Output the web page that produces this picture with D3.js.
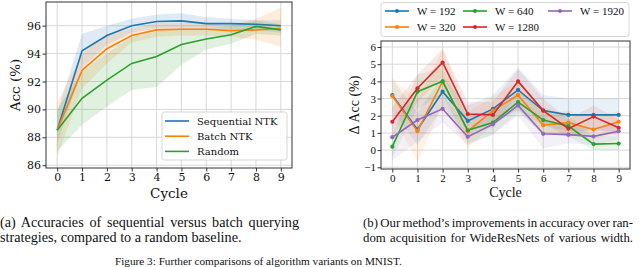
<!DOCTYPE html>
<html><head><meta charset="utf-8">
<script src="https://cdn.jsdelivr.net/npm/d3@7"></script>
<style>body{margin:0;background:#fff}svg{display:block}</style>
</head><body>
<svg id="c" width="640" height="267"></svg>
<script>
const cycles = [0,1,2,3,4,5,6,7,8,9];
// Left chart
const seqMean = [88.5,94.2,95.3,96.0,96.3,96.35,96.15,96.15,96.1,96.0];
const seqLo   = [87.5,93.0,94.6,95.5,95.8,95.8,95.8,95.8,95.7,95.5];
const seqHi   = [89.8,95.4,96.0,96.5,96.8,96.9,96.6,96.5,96.4,96.4];
const batMean = [88.5,92.8,94.35,95.3,95.7,95.75,95.75,95.65,95.7,95.8];
const batLo   = [86.6,91.5,93.3,94.8,95.2,95.3,95.3,95.2,95.0,94.5];
const batHi   = [90.5,94.0,95.4,95.8,96.2,96.2,96.2,96.1,96.5,97.3];
const rndMean = [88.5,90.8,92.1,93.3,93.8,94.65,95.05,95.35,95.95,95.7];
const rndLo   = [87.0,88.9,90.2,91.4,91.6,93.2,94.3,94.7,95.4,95.3];
const rndHi   = [90.0,92.7,94.0,95.2,95.6,95.8,95.8,96.0,96.4,96.1];
const leftNames = ["Sequential NTK","Batch NTK","Random"];
const leftTicks = [86,88,90,92,94,96];
// Right chart
const widthNames = ["W = 192","W = 320","W = 640","W = 1280","W = 1920"];
const w192  = [3.2,1.2,3.4,1.7,2.4,3.5,2.3,2.05,2.05,2.05];
const w192Lo= [2.3,0.3,2.5,0.9,1.6,2.3,1.4,1.1,1.1,1.1];
const w192Hi= [4.1,2.2,4.3,2.6,3.2,4.8,3.2,3.0,3.0,3.0];
const w320  = [3.15,1.1,4.0,1.1,2.3,3.2,1.45,1.6,1.2,1.65];
const w320Lo= [2.1,-0.7,2.6,0.1,1.5,2.4,0.8,0.9,0.6,1.0];
const w320Hi= [4.2,2.9,5.9,2.2,3.1,4.0,2.1,2.3,1.8,2.3];
const w640  = [0.2,3.4,4.0,1.15,1.6,2.8,1.75,1.4,0.35,0.38];
const w640Lo= [-0.4,2.4,3.2,0.4,0.9,2.2,1.0,0.8,0.0,0.0];
const w640Hi= [0.9,4.4,4.8,1.9,2.3,3.4,2.5,2.0,0.8,0.8];
const w1280  = [1.65,3.6,5.1,2.1,2.05,4.0,2.3,1.25,1.95,1.3];
const w1280Lo= [0.8,2.8,4.3,1.4,1.3,3.3,1.6,0.7,1.3,0.8];
const w1280Hi= [2.5,4.4,5.9,2.8,2.8,4.7,3.0,1.8,2.6,1.8];
const w1920  = [0.75,1.75,2.4,0.78,1.5,2.6,0.95,0.9,0.8,1.1];
const w1920Lo= [-0.6,0.5,1.6,0.3,0.9,2.0,0.1,0.4,0.3,0.6];
const w1920Hi= [2.1,3.0,3.2,1.3,2.1,3.2,1.8,1.4,1.3,1.6];
const rightTicks = [-1,0,1,2,3,4,5,6];

const colors = ["#1f77b4","#ff7f0e","#2ca02c","#d62728","#9467bd"];
const svg = d3.select("#c");
const serifL = "'DejaVu Serif', serif";
const serifR = "'Liberation Serif', 'Times New Roman', serif";

function panel(o){
  const g = svg.append("g");
  const x = d3.scaleLinear().domain([-0.45,9.45]).range([o.x0,o.x1]);
  const y = d3.scaleLinear().domain(o.yd).range([o.y1,o.y0]);
  g.append("g").selectAll("line").data(cycles).join("line")
    .attr("x1",d=>x(d)).attr("x2",d=>x(d)).attr("y1",o.y0).attr("y2",o.y1)
    .attr("stroke","#d8d8d8").attr("stroke-width",1);
  g.append("g").selectAll("line").data(o.ticks).join("line")
    .attr("y1",d=>y(d)).attr("y2",d=>y(d)).attr("x1",o.x0).attr("x2",o.x1)
    .attr("stroke","#d8d8d8").attr("stroke-width",1);
  const area = d3.area().x((d,i)=>x(cycles[i])).y0(d=>y(d[0])).y1(d=>y(d[1]));
  o.series.forEach((s,k)=>{
    g.append("path").datum(s.lo.map((v,i)=>[v,s.hi[i]])).attr("d",area)
      .attr("fill",colors[k]).attr("fill-opacity",o.bandOp).attr("stroke","none");
  });
  const line = d3.line().x((d,i)=>x(cycles[i])).y(d=>y(d));
  o.series.forEach((s,k)=>{
    g.append("path").datum(s.m).attr("d",line).attr("fill","none")
      .attr("stroke",colors[k]).attr("stroke-width",1.6);
    if(o.markers){
      g.append("g").selectAll("circle").data(s.m).join("circle")
        .attr("cx",(d,i)=>x(cycles[i])).attr("cy",d=>y(d)).attr("r",2.1).attr("fill",colors[k]);
    }
  });
  g.append("rect").attr("x",o.x0).attr("y",o.y0).attr("width",o.x1-o.x0).attr("height",o.y1-o.y0)
    .attr("fill","none").attr("stroke","#333").attr("stroke-width",1);
  const xa = g.append("g").attr("transform",`translate(0,${o.y1})`)
    .call(d3.axisBottom(x).tickValues(cycles).tickSize(3.5).tickPadding(2).tickFormat(d3.format("d")));
  const ya = g.append("g").attr("transform",`translate(${o.x0},0)`)
    .call(d3.axisLeft(y).tickValues(o.ticks).tickSize(3.5).tickPadding(1.5)
      .tickFormat(d=> d<0 ? "\u2212"+Math.abs(d) : String(d)));
  [xa,ya].forEach(a=>{
    a.select(".domain").remove();
    a.selectAll(".tick line").attr("stroke","#333");
    a.selectAll("text").attr("fill","#111").style("font-family",o.font).style("font-size",o.tickFs+"px");
  });
  g.append("text").attr("x",(o.x0+o.x1)/2).attr("y",o.xlabY).attr("text-anchor","middle")
    .style("font-family",o.font).style("font-size",o.labFs+"px").attr("fill","#111").text("Cycle");
  g.append("text").attr("transform",`translate(${o.ylabX},${(o.y0+o.y1)/2}) rotate(-90)`)
    .attr("text-anchor","middle").attr("dy","0.35em")
    .style("font-family",o.font).style("font-size",o.labFs+"px").attr("fill","#111").text(o.ylab);
  return {x,y,g};
}

panel({x0:46,x1:292,y0:2,y1:168,yd:[85.8,97.7],ticks:leftTicks,font:serifL,tickFs:11,labFs:13.5,
  xlabY:198,ylabX:15,ylab:"Acc (%)",bandOp:0.15,markers:false,
  series:[{m:seqMean,lo:seqLo,hi:seqHi},{m:batMean,lo:batLo,hi:batHi},{m:rndMean,lo:rndLo,hi:rndHi}]});

panel({x0:381,x1:630,y0:41,y1:169,yd:[-1.1,6.35],ticks:rightTicks,font:serifR,tickFs:11,labFs:14,
  xlabY:197,ylabX:354,ylab:"\u0394 Acc (%)",bandOp:0.1,markers:true,
  series:[{m:w192,lo:w192Lo,hi:w192Hi},{m:w320,lo:w320Lo,hi:w320Hi},{m:w640,lo:w640Lo,hi:w640Hi},
          {m:w1280,lo:w1280Lo,hi:w1280Hi},{m:w1920,lo:w1920Lo,hi:w1920Hi}]});

// left legend
const lg = svg.append("g");
lg.append("rect").attr("x",162).attr("y",112).attr("width",125).attr("height",48).attr("rx",2.5)
  .attr("fill","#fff").attr("fill-opacity",0.85).attr("stroke","#ccc").attr("stroke-width",0.8);
leftNames.forEach((n,k)=>{
  const yy = 121 + k*15.2;
  lg.append("line").attr("x1",165).attr("x2",189).attr("y1",yy).attr("y2",yy)
    .attr("stroke",colors[k]).attr("stroke-width",1.6);
  lg.append("text").attr("x",197).attr("y",yy).attr("dy","0.35em")
    .style("font-family",serifL).style("font-size","10px").attr("fill","#111").text(n);
});
// right legend (column-major, 3 columns)
const rg = svg.append("g");
rg.append("rect").attr("x",381).attr("y",2.5).attr("width",248).attr("height",34).attr("rx",2.5)
  .attr("fill","#fff").attr("stroke","#ccc").attr("stroke-width",0.8);
const colX = [385,463,548];
widthNames.forEach((n,k)=>{
  const col = Math.floor(k/2), row = k%2;
  const lx = colX[col], yy = 11 + row*16;
  rg.append("line").attr("x1",lx).attr("x2",lx+24).attr("y1",yy).attr("y2",yy)
    .attr("stroke",colors[k]).attr("stroke-width",1.6);
  rg.append("circle").attr("cx",lx+12).attr("cy",yy).attr("r",2).attr("fill",colors[k]);
  rg.append("text").attr("x",lx+32).attr("y",yy).attr("dy","0.35em")
    .style("font-family",serifR).style("font-size","11px").attr("fill","#111").text(n);
});

// captions: size fitted to measured widths, justified by word spacing
function mk(x,y,t,fs){
  return svg.append("text").attr("x",x).attr("y",y).style("font-family",serifR)
    .style("font-size",fs+"px").attr("fill","#111").text(t);
}
function fitSize(t,w){
  const e = mk(0,-50,t,12); const n = e.node().getComputedTextLength(); e.remove();
  return 12*w/n;
}
function justify(e,t,len){
  const nat = e.node().getComputedTextLength();
  const spaces = (t.match(/ /g)||[]).length;
  if(spaces>0) e.attr("word-spacing",((len-nat)/spaces).toFixed(3));
}
const capA1 = "(a) Accuracies of sequential versus batch querying";
const capA2 = "strategies, compared to a random baseline.";
const capB1 = "(b) Our method\u2019s improvements in accuracy over ran-";
const capB2 = "dom acquisition for WideResNets of various width.";
const figCap = "Figure 3: Further comparisons of algorithm variants on MNIST.";
const fsA = Math.min(fitSize(capA2,245), fitSize(capA1,299), 14.2);
justify(mk(0,226.5,capA1,fsA),capA1,299);
mk(0,242,capA2,fsA);
const fsB = Math.min((fitSize(capB1,270) + fitSize(capB2,270))/2, 13.4);
justify(mk(363,226.5,capB1,fsB),capB1,270);
justify(mk(363,242,capB2,fsB),capB2,270);
const fsF = Math.min(fitSize(figCap,287),14);
mk(115,264.5,figCap,fsF);
</script>
</body></html>
